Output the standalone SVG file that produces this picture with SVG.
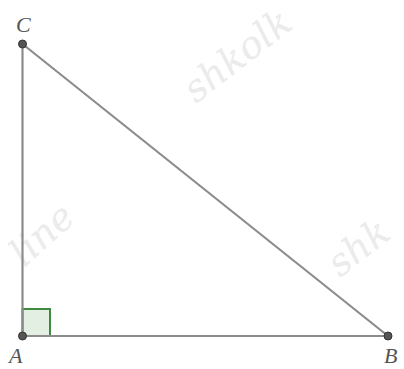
<svg xmlns="http://www.w3.org/2000/svg" width="404" height="369" viewBox="0 0 404 369">
<style>
.wm{font-family:"DejaVu Serif","Liberation Serif",serif;font-style:italic;font-size:38px;fill:#ebebeb;}
.edge{stroke:#8c8c8c;stroke-width:2.2;fill:none;stroke-linecap:round;}
.pt{fill:#555;stroke:#333;stroke-width:1;}
.lbl{font-family:"Liberation Serif","DejaVu Serif",serif;font-style:italic;font-size:22px;fill:#555;}
</style>
<rect width="404" height="369" fill="#fff"/>
<g id="watermarks">
<text class="wm" transform="translate(196,104) rotate(-38)">shkolk</text>
<text class="wm" transform="translate(24,268) rotate(-42)">line</text>
<text class="wm" transform="translate(340,278) rotate(-38)">shk</text>
</g>
<g id="right-angle">
<rect x="22.5" y="309" width="27.5" height="27" fill="#e3efe3" stroke="#3f8a3f" stroke-width="2"/>
</g>
<g id="connectors">
<line class="edge" x1="22.5" y1="44" x2="22.5" y2="336"/>
<line class="edge" x1="22.5" y1="336" x2="388" y2="336"/>
<line class="edge" x1="22.5" y1="44" x2="388" y2="336"/>
</g>
<g id="C"><circle class="pt" cx="22.5" cy="44" r="4"/><text class="lbl" x="16" y="32">C</text></g>
<g id="A"><circle class="pt" cx="22.5" cy="336" r="4"/><text class="lbl" x="9" y="363">A</text></g>
<g id="B"><circle class="pt" cx="388" cy="336" r="4"/><text class="lbl" x="384" y="363">B</text></g>
</svg>
